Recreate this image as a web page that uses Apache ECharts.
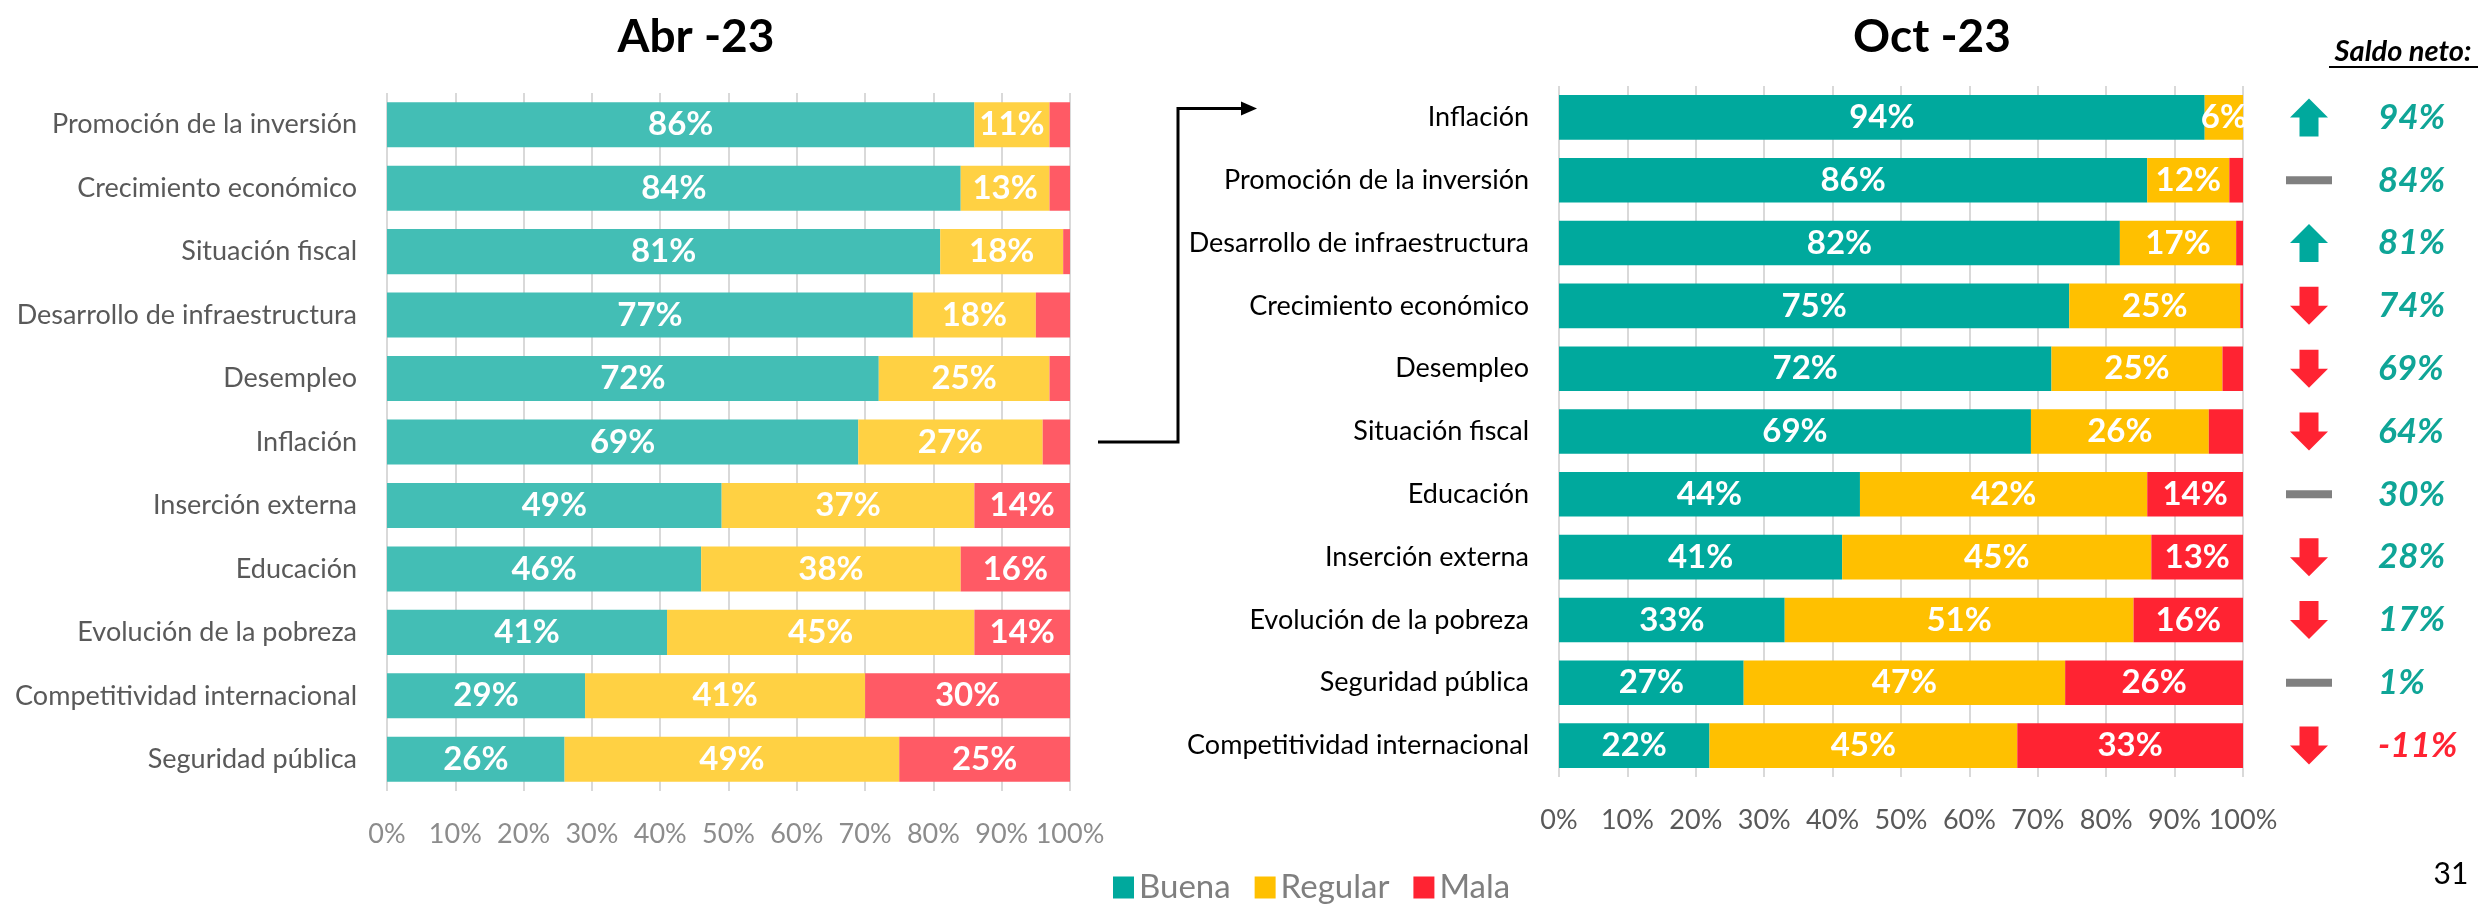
<!DOCTYPE html>
<html>
<head>
<meta charset="utf-8">
<script src="https://cdn.jsdelivr.net/npm/echarts@6/dist/echarts.min.js"></script>
<style>
  html, body { margin: 0; padding: 0; background: #fff; }
  #chart { width: 2481px; height: 905px; }
</style>
</head>
<body>
<div id="chart"></div>
<script>
(() => {

    const FONT = 'Lato, "Open Sans", sans-serif';

    // Abr -23
    const CATS_ABR = ['Promoción de la inversión', 'Crecimiento económico', 'Situación fiscal',
        'Desarrollo de infraestructura', 'Desempleo', 'Inflación', 'Inserción externa', 'Educación',
        'Evolución de la pobreza', 'Competitividad internacional', 'Seguridad pública'];
    const BUENA_ABR   = [86, 84, 81, 77, 72, 69, 49, 46, 41, 29, 26];
    const REGULAR_ABR = [11, 13, 18, 18, 25, 27, 37, 38, 45, 41, 49];
    const MALA_ABR    = [3, 3, 1, 5, 3, 4, 14, 16, 14, 30, 25];

    // Oct -23
    const CATS_OCT = ['Inflación', 'Promoción de la inversión', 'Desarrollo de infraestructura',
        'Crecimiento económico', 'Desempleo', 'Situación fiscal', 'Educación', 'Inserción externa',
        'Evolución de la pobreza', 'Seguridad pública', 'Competitividad internacional'];
    const BUENA_OCT   = [94.4, 86, 82, 74.6, 72, 69, 44, 41.4, 33, 27, 22];
    const REGULAR_OCT = [5.6, 12, 17, 25, 25, 26, 42, 45.2, 51, 47, 45];
    const MALA_OCT    = [0, 2, 1, 0.4, 3, 5, 14, 13.4, 16, 26, 33];

    // Saldo neto
    const SALDO = [94, 84, 81, 74, 69, 64, 30, 28, 17, 1, -11];
    const TREND = ['up', 'flat', 'up', 'down', 'down', 'down', 'flat', 'down', 'down', 'flat', 'down'];

    const NAMES = ['Buena', 'Regular', 'Mala'];
    const COLORS_OCT = ['#00A99D', '#FFC000', '#FF2332'];
    const COLORS_ABR = ['#43BEB5', '#FFD143', '#FF5A65'];

    const ARROW = 'path://M19,0 L38,19 L28.5,19 L28.5,38 L9.5,38 L9.5,19 L0,19 Z';

    const chart = echarts.init(document.getElementById('chart'));

    const barLabel = {
        show: true,
        position: 'inside',
        color: '#fff',
        fontFamily: FONT,
        fontWeight: 'bold',
        fontSize: 33,
        formatter: p => (p.value >= 5.5 ? Math.round(p.value) + '%' : '')
    };

    function xAxis(gridIndex, labelColor) {
        return {
            type: 'value', gridIndex, min: 0, max: 100, interval: 10,
            axisLine: {show: false}, axisTick: {show: false},
            splitLine: {show: true, lineStyle: {color: '#d9d9d9', width: 2}},
            axisLabel: {formatter: '{value}%', color: labelColor, fontFamily: FONT, fontSize: 27, margin: 30}
        };
    }

    function yAxis(gridIndex, cats, labelColor) {
        return {
            type: 'category', gridIndex, data: cats, inverse: true,
            axisLine: {show: false}, axisTick: {show: false},
            axisLabel: {color: labelColor, fontFamily: FONT, fontSize: 27, margin: 30}
        };
    }

    function bars(xi, data, names, colors, stack) {
        return data.map((d, i) => ({
            name: names[i], type: 'bar', stack,
            xAxisIndex: xi, yAxisIndex: xi,
            barCategoryGap: '29%',
            itemStyle: {color: colors[i]},
            label: barLabel,
            data: d
        }));
    }

    const trendColor = t => (t === 'up' ? '#00A99D' : t === 'down' ? '#FF2332' : '#808080');

    const arrowData = TREND.map((t, i) => ({
        value: [39, CATS_OCT[i]],
        symbol: t === 'flat' ? 'rect' : ARROW,
        symbolSize: t === 'flat' ? [46, 8] : [38, 38],
        symbolRotate: t === 'down' ? 180 : 0,
        itemStyle: {color: trendColor(t), opacity: 1}
    }));

    const saldoData = SALDO.map((v, i) => ({
        value: [108, CATS_OCT[i]],
        label: {color: v < 0 ? '#FF2332' : '#0FA597'}
    }));

    const option = {
        animation: false,
        textStyle: {fontFamily: FONT},
        grid: [
            {left: 387, top: 93, width: 683, height: 698},
            {left: 1559, top: 86, width: 684, height: 691},
            {left: 2270, top: 86, width: 200, height: 691}
        ],
        xAxis: [
            xAxis(0, '#8c8c8c'),
            xAxis(1, '#595959'),
            {type: 'value', gridIndex: 2, min: 0, max: 200, show: false}
        ],
        yAxis: [
            yAxis(0, CATS_ABR, '#595959'),
            yAxis(1, CATS_OCT, '#000'),
            {type: 'category', gridIndex: 2, data: CATS_OCT, inverse: true, show: false}
        ],
        legend: {
            data: NAMES,
            left: 1108, top: 866,
            icon: 'rect', itemWidth: 21, itemHeight: 22, itemGap: 24,
            textStyle: {color: '#7f7f7f', fontFamily: FONT, fontSize: 33}
        },
        series: [
            ...bars(1, [BUENA_OCT, REGULAR_OCT, MALA_OCT], NAMES, COLORS_OCT, 'oct'),
            ...bars(0, [BUENA_ABR, REGULAR_ABR, MALA_ABR], NAMES, COLORS_ABR, 'abr'),
            {
                type: 'scatter', xAxisIndex: 2, yAxisIndex: 2, silent: true,
                data: arrowData
            },
            {
                type: 'scatter', xAxisIndex: 2, yAxisIndex: 2, silent: true,
                symbolSize: 0, itemStyle: {color: '#fff', opacity: 1},
                label: {
                    show: true, position: 'right', distance: 0,
                    fontFamily: FONT, fontSize: 35, fontWeight: 'bold', fontStyle: 'italic',
                    formatter: p => SALDO[p.dataIndex] + '%'
                },
                data: saldoData
            }
        ]
    };

    chart.setOption(option);

    // titles, connector, page number
    const pL = chart.convertToPixel({xAxisIndex: 0, yAxisIndex: 0}, [100, 'Inflación']);
    const pR = chart.convertToPixel({xAxisIndex: 1, yAxisIndex: 1}, [0, 'Inflación']);
    const sx = pL[0] + 28, vx = pR[0] - 381, tipX = pR[0] - 302, ty = pR[1] - 9;

    chart.setOption({
        graphic: [
            {type: 'text', style: {x: 696, y: 37, text: 'Abr -23', align: 'center', verticalAlign: 'middle',
                fontFamily: FONT, fontSize: 46, fontWeight: 'bold', fill: '#000'}},
            {type: 'text', style: {x: 1932, y: 37, text: 'Oct -23', align: 'center', verticalAlign: 'middle',
                fontFamily: FONT, fontSize: 46, fontWeight: 'bold', fill: '#000'}},
            {type: 'text', style: {x: 2403, y: 52, text: 'Saldo neto:', align: 'center', verticalAlign: 'middle',
                fontFamily: FONT, fontSize: 29, fontWeight: 'bold', fontStyle: 'italic', fill: '#000'}},
            {type: 'line', shape: {x1: 2329, y1: 67, x2: 2478, y2: 67}, style: {stroke: '#000', lineWidth: 2}},
            {type: 'polyline', shape: {points: [[sx, pL[1]], [vx, pL[1]], [vx, ty], [tipX - 14, ty]]},
                style: {stroke: '#000', lineWidth: 3, fill: null}},
            {type: 'polygon', shape: {points: [[tipX - 16, ty - 7], [tipX, ty], [tipX - 16, ty + 7]]},
                style: {fill: '#000'}},
            {type: 'text', style: {x: 2451, y: 874, text: '31', align: 'center', verticalAlign: 'middle',
                fontFamily: FONT, fontSize: 30, fill: '#000'}}
        ]
    });
})();
</script>
</body>
</html>
